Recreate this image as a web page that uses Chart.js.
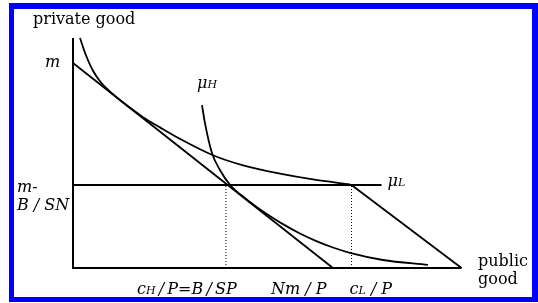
<!DOCTYPE html>
<html>
<head>
<meta charset="utf-8">
<script src="https://cdn.jsdelivr.net/npm/chart.js@4/dist/chart.umd.min.js"></script>
<style>
  html, body { margin: 0; padding: 0; background: #ffffff; }
  #wrap { position: relative; width: 538px; height: 303px; }
  #frame { position: absolute; left: 9px; top: 3px; width: 529px; height: 299px; box-sizing: border-box;
           border-style: solid; border-color: #0000ff; border-width: 6px 6px 5px 5px; pointer-events: none; }
  canvas { position: absolute; left: 0; top: 0; }
</style>
</head>
<body>
<div id="wrap">
  <canvas id="c" width="538" height="303"></canvas>
  <div id="frame"></div>
</div>
<script>
// ---- values (axis units: private good vs public good) ----
const axisXMax = 19.43;     // end of public-good axis
const axisYMax = 11.22;     // top of private-good axis
const mValue = 10;          // m
const mMinusBSN = 4.05;     // m - B/SN
const cHoverP = 7.65;       // cH/P = B/SP
const NmOverP = 13;         // Nm/P
const cLoverP = 13.93;      // cL/P
const flatEnd = 15.43;      // end of the horizontal line at m - B/SN

// indifference curve muL
const muLx = [0.35, 0.6, 1.0, 1.4, 1.8, 2.3, 2.8, 3.5, 4.35, 5.35, 7.0, 8.6, 10.35, 12.0, 13.85];
const muLy = [11.22, 10.5, 9.62, 9.05, 8.65, 8.23, 7.85, 7.36, 6.86, 6.3, 5.5, 4.98, 4.6, 4.32, 4.08];
// indifference curve muH
const muHx = [6.45, 6.6, 6.95, 7.35, 7.85, 8.7, 9.25, 9.75, 10.5, 11.35, 12.2, 13.0, 13.85, 15.5, 17.75];
const muHy = [7.95, 7.07, 5.61, 4.78, 4.06, 3.33, 2.93, 2.60, 2.14, 1.68, 1.30, 1.0, 0.74, 0.39, 0.15];

const pts = (xs, ys) => xs.map((x, i) => ({ x: x, y: ys[i] }));
const lineDs = (data, extra) => Object.assign({
  data: data, showLine: true, borderColor: '#000', borderWidth: 1.8,
  pointRadius: 0, fill: false, clip: false, tension: 0
}, extra || {});

const SERIF = '"DejaVu Serif", "Liberation Serif", serif';

function rich(ctx, x, y, pieces) {
  let cx = x;
  pieces.forEach(p => {
    ctx.font = p.f;
    ctx.fillText(p.t, cx, y + (p.dy || 0));
    cx += ctx.measureText(p.t).width;
  });
}

const labelPlugin = {
  id: 'labels',
  afterDraw(chart) {
    const ctx = chart.ctx, xs = chart.scales.x, ys = chart.scales.y;
    const I = 'italic 16px ' + SERIF, S = 'italic 11px ' + SERIF, U = '16px ' + SERIF;
    const MU = 'italic 16px ' + SERIF;
    ctx.save();
    ctx.fillStyle = '#000';
    ctx.textBaseline = 'alphabetic';
    ctx.textAlign = 'left';
    // axis titles
    ctx.font = U;
    ctx.fillText('private good', 33, 24);
    ctx.fillText('public', 478, 266);
    ctx.fillText('good', 478, 284);
    // y-axis labels
    const yM = ys.getPixelForValue(mValue);
    rich(ctx, 45, yM + 4, [{ t: 'm', f: I }]);
    const yB = ys.getPixelForValue(mMinusBSN);
    rich(ctx, 17, yB + 7, [{ t: 'm-', f: I }]);
    rich(ctx, 17, yB + 25, [{ t: 'B / SN', f: I }]);
    // x-axis labels
    const base = 294;
    rich(ctx, xs.getPixelForValue(cHoverP) - 89, base, [{ t: 'c', f: I }, { t: 'H', f: S }, { t: '\u2009/\u2009P=B\u2009/\u2009SP', f: I }]);
    rich(ctx, xs.getPixelForValue(NmOverP) - 62, base, [{ t: 'Nm / P', f: I }]);
    rich(ctx, xs.getPixelForValue(cLoverP) - 2, base, [{ t: 'c', f: I }, { t: 'L', f: S }, { t: ' / P', f: I }]);
    // curve labels
    rich(ctx, 197, 88, [{ t: 'μ', f: MU }, { t: 'H', f: S }]);
    rich(ctx, xs.getPixelForValue(flatEnd) + 6, yB + 1, [{ t: 'μ', f: MU }, { t: 'L', f: S }]);
    ctx.restore();
  }
};

new Chart(document.getElementById('c'), {
  type: 'scatter',
  data: {
    datasets: [
      lineDs([{ x: 0, y: axisYMax }, { x: 0, y: 0 }, { x: axisXMax, y: 0 }], { borderWidth: 2 }),
      lineDs([{ x: 0, y: mValue }, { x: NmOverP, y: 0 }]),
      lineDs([{ x: 0, y: mMinusBSN }, { x: flatEnd, y: mMinusBSN }]),
      lineDs([{ x: cLoverP, y: mMinusBSN }, { x: axisXMax, y: 0 }]),
      lineDs([{ x: cHoverP, y: 0 }, { x: cHoverP, y: mMinusBSN }], { borderWidth: 1, borderDash: [1, 2] }),
      lineDs([{ x: cLoverP, y: 0 }, { x: cLoverP, y: mMinusBSN }], { borderWidth: 1, borderDash: [1, 2] }),
      lineDs(pts(muLx, muLy), { cubicInterpolationMode: 'monotone' }),
      lineDs(pts(muHx, muHy), { cubicInterpolationMode: 'monotone' })
    ]
  },
  options: {
    responsive: false,
    animation: false,
    devicePixelRatio: 1,
    layout: { padding: { left: 73, right: 76.5, top: 38, bottom: 35 } },
    plugins: { legend: { display: false }, tooltip: { enabled: false } },
    scales: {
      x: { type: 'linear', min: 0, max: axisXMax, display: false },
      y: { type: 'linear', min: 0, max: axisYMax, display: false }
    }
  },
  plugins: [labelPlugin]
});
</script>
</body>
</html>
